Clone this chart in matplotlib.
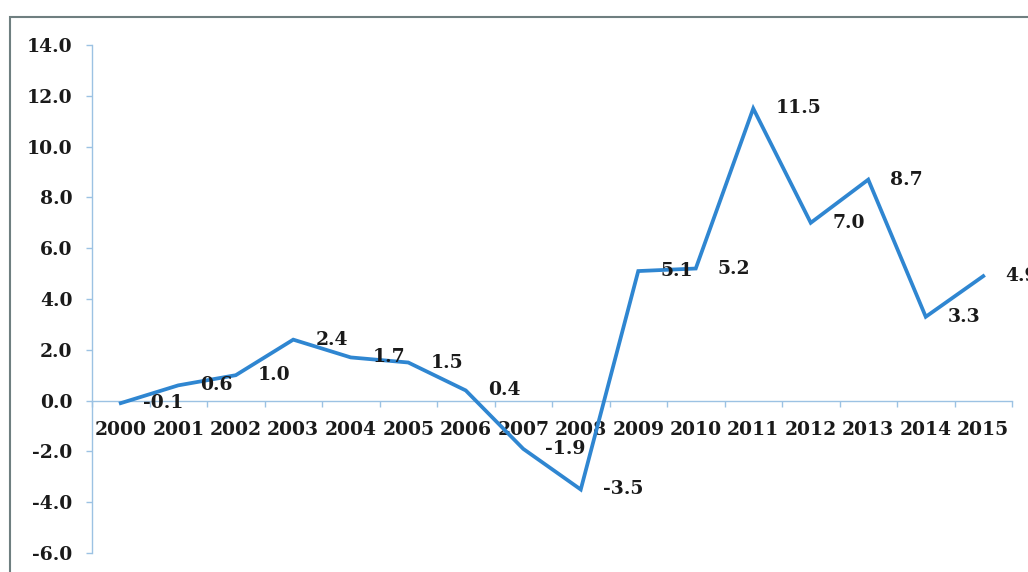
import matplotlib
matplotlib.use("Agg")
import matplotlib.pyplot as plt
from matplotlib.patches import Rectangle
from matplotlib.ticker import FixedLocator, FuncFormatter

years = ["2000", "2001", "2002", "2003", "2004", "2005", "2006", "2007",
         "2008", "2009", "2010", "2011", "2012", "2013", "2014", "2015"]
values = [-0.1, 0.6, 1.0, 2.4, 1.7, 1.5, 0.4, -1.9,
          -3.5, 5.1, 5.2, 11.5, 7.0, 8.7, 3.3, 4.9]
y_ticks = [-6.0, -4.0, -2.0, 0.0, 2.0, 4.0, 6.0, 8.0, 10.0, 12.0, 14.0]

W, H = 1028, 572
fig = plt.figure(figsize=(W / 100, H / 100), dpi=100)
ax = fig.add_axes([92 / W, 19 / H, (1012 - 92) / W, (553 - 45) / H])

font = dict(family="DejaVu Serif", weight="bold", size=13.5, color="#1a1a1a")
line_color = "#2f86d1"
axis_color = "#9cc2e3"

x = list(range(len(years)))
ax.plot(x, values, color=line_color, lw=2.7, solid_joinstyle="miter", zorder=3)

for xi, v in zip(x, values):
    ax.annotate(f"{v:.1f}", (xi, v), xytext=(16, 0), textcoords="offset points",
                ha="left", va="center", **font, zorder=4)

ax.set_xlim(-0.5, len(years) - 0.5)
ax.set_ylim(-6, 14)

for s in ["top", "right"]:
    ax.spines[s].set_visible(False)
ax.spines["left"].set_color(axis_color)
ax.spines["bottom"].set_color(axis_color)
ax.spines["left"].set_linewidth(1.0)
ax.spines["bottom"].set_linewidth(1.0)
ax.spines["bottom"].set_position(("data", 0))

ax.yaxis.set_major_locator(FixedLocator(y_ticks))
ax.yaxis.set_major_formatter(FuncFormatter(lambda v, p: f"{v:.1f}"))
ax.tick_params(axis="y", which="major", direction="out", length=4, width=1,
               color=axis_color, pad=10)

# category boundaries as major ticks, labels at category centers
ax.xaxis.set_major_locator(FixedLocator([i - 0.5 for i in range(len(years) + 1)]))
ax.xaxis.set_major_formatter(FuncFormatter(lambda v, p: ""))
ax.xaxis.set_minor_locator(FixedLocator(x))
ax.set_xticklabels(years, minor=True)
ax.tick_params(axis="x", which="major", direction="out", length=4, width=1,
               color=axis_color)
ax.tick_params(axis="x", which="minor", length=0, pad=15)

for lab in ax.get_yticklabels() + ax.get_xticklabels(minor=True):
    lab.set_fontfamily(font["family"])
    lab.set_fontweight(font["weight"])
    lab.set_fontsize(font["size"])
    lab.set_color(font["color"])

# outer chart frame (only top and left edges visible)
fig.add_artist(Rectangle((9.5 / W, -0.1), 1.2, (H - 16.5) / H + 0.1,
                         transform=fig.transFigure, fill=False,
                         edgecolor="#6f7f80", lw=1.5, zorder=10))

fig.savefig("out.png", dpi=100, facecolor="white")
